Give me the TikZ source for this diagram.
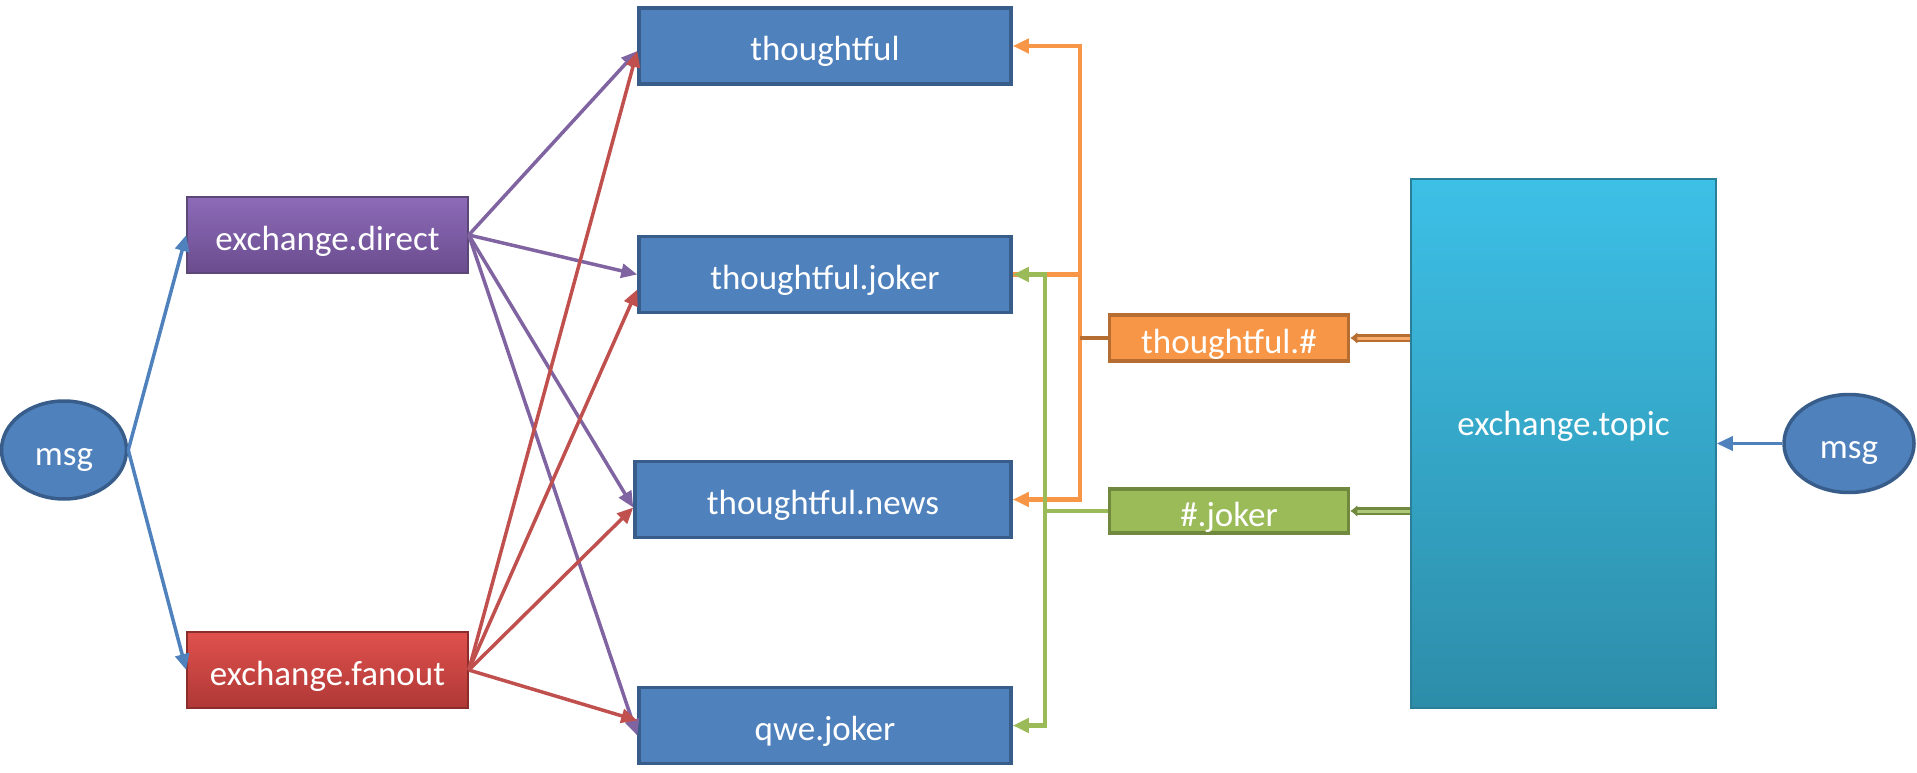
\documentclass[tikz,border=0pt]{standalone}
\usepackage{fontspec}
\setmainfont{Carlito}
\usetikzlibrary{arrows.meta,shapes.geometric}
\definecolor{bfill}{HTML}{4F81BD}
\definecolor{bdraw}{HTML}{385D8A}
\definecolor{ptop}{HTML}{8D6BB8}
\definecolor{pbot}{HTML}{6A4C8E}
\definecolor{pdraw}{HTML}{5C4776}
\definecolor{rtop}{HTML}{E0514D}
\definecolor{rbot}{HTML}{AF3836}
\definecolor{rdraw}{HTML}{8C2D2B}
\definecolor{ofill}{HTML}{F79646}
\definecolor{odraw}{HTML}{B66D31}
\definecolor{gfill}{HTML}{9BBB59}
\definecolor{gdraw}{HTML}{71893F}
\definecolor{ttop}{HTML}{3DC0E6}
\definecolor{tbot}{HTML}{2D8DA9}
\definecolor{tdraw}{HTML}{2A7F98}
\definecolor{barrow}{HTML}{4F81BD}
\definecolor{parrow}{HTML}{8064A2}
\definecolor{rarrow}{HTML}{C0504D}
\tikzset{
  lbl/.style={text=white,font=\fontsize{35}{40}\selectfont,inner sep=0pt,text height=30pt,text depth=0pt},
  qbox/.style={lbl,rectangle,draw=bdraw,fill=bfill,line width=3.5pt,minimum width=#1,minimum height=76pt},
  msgnode/.style={lbl,ellipse,draw=bdraw,fill=bfill,line width=3.5pt,minimum width=#1,minimum height=98pt},
  dirbox/.style={lbl,rectangle,draw=pdraw,top color=ptop,bottom color=pbot,line width=1.5pt,minimum width=281pt,minimum height=76pt},
  fanbox/.style={lbl,rectangle,draw=rdraw,top color=rtop,bottom color=rbot,line width=1.5pt,minimum width=281pt,minimum height=76pt},
  obox/.style={lbl,rectangle,draw=odraw,fill=ofill,line width=3.5pt,minimum width=239pt,minimum height=46pt},
  gbox/.style={lbl,rectangle,draw=gdraw,fill=gfill,line width=3.5pt,minimum width=239pt,minimum height=44pt},
  topbox/.style={rectangle,draw=tdraw,top color=ttop,bottom color=tbot,line width=1.5pt,minimum width=305pt,minimum height=529pt},
  tip/.style={-{Triangle[length=16pt,width=14pt]}},
  barr/.style={tip,draw=barrow,line width=3.5pt},
  parr/.style={tip,draw=parrow,line width=3.5pt},
  rarr/.style={tip,draw=rarrow,line width=3.5pt},
  oarr/.style={draw=ofill,line width=4.5pt},
  garr/.style={draw=gfill,line width=4.5pt},
  dlink/.style={double distance=3pt,line width=2.5pt,-{Latex[length=7pt,width=12pt]}},
}
\begin{document}
\begin{tikzpicture}[x=1pt,y=-1pt]
\useasboundingbox (0,0) rectangle (1917,773);
% nodes
\node[msgnode=125pt] (msgL) at (64,450) {msg};
\node[dirbox] (direct) at (327.5,235) {exchange.direct};
\node[fanbox] (fanout) at (327.5,670) {exchange.fanout};
\node[qbox=372pt] (thoughtful) at (825,46) {thoughtful};
\node[qbox=372pt] (tjoker) at (825,274.5) {thoughtful.joker};
\node[qbox=376pt] (tnews) at (823,499.5) {thoughtful.news};
\node[qbox=372pt] (qwe) at (825,725.5) {qwe.joker};
\node[obox] (thash) at (1229,338) {thoughtful.\#};
\node[gbox] (hjoker) at (1229,511) {\#.joker};
\node[topbox] (topic) at (1563.5,443.5) {};
\node[lbl] (topiclbl) at (1563.5,420) {exchange.topic};
\node[msgnode=130pt] (msgR) at (1849,443.5) {msg};
% blue arrows
\draw[barr] (msgL.east) -- (direct.west);
\draw[barr] (msgL.east) -- (fanout.west);
\draw[barr] (msgR.west) -- (msgR.west -| topic.east);
% purple arrows
\draw[parr] (direct.east) -- ([yshift=-5pt]thoughtful.west);
\draw[parr] (direct.east) -- (tjoker.west);
\draw[parr] (direct.east) -- ([yshift=-8pt]tnews.west);
\draw[parr] (direct.east) -- ([yshift=-10pt]qwe.west);
% red arrows
\draw[rarr] (fanout.east) -- ([yshift=-5pt]thoughtful.west);
\draw[rarr] (fanout.east) -- ([yshift=-15pt]tjoker.west);
\draw[rarr] (fanout.east) -- ([yshift=-8pt]tnews.west);
\draw[rarr] (fanout.east) -- ([yshift=5pt]qwe.west);
% orange routes
\coordinate (ob) at (1080,338);
\draw[oarr] (ob) |- (tjoker.east);
\draw[oarr,tip] (ob) |- (thoughtful.east);
\draw[oarr,tip] (ob) |- (tnews.east);
\draw[draw=odraw,line width=4.5pt] (thash.west) -- (ob);
% green routes
\coordinate (gb) at (1045,511);
\draw[garr,tip] (gb) |- (tjoker.east);
\draw[garr,tip] (gb) |- (qwe.east);
\draw[garr] (hjoker.west) -- (gb);
% topic to bindings
\draw[dlink,draw=odraw,double=ofill!80] (thash.east -| topic.west) -- (thash.east);
\draw[dlink,draw=gdraw,double=gfill!80] (hjoker.east -| topic.west) -- (hjoker.east);
\end{tikzpicture}
\end{document}
